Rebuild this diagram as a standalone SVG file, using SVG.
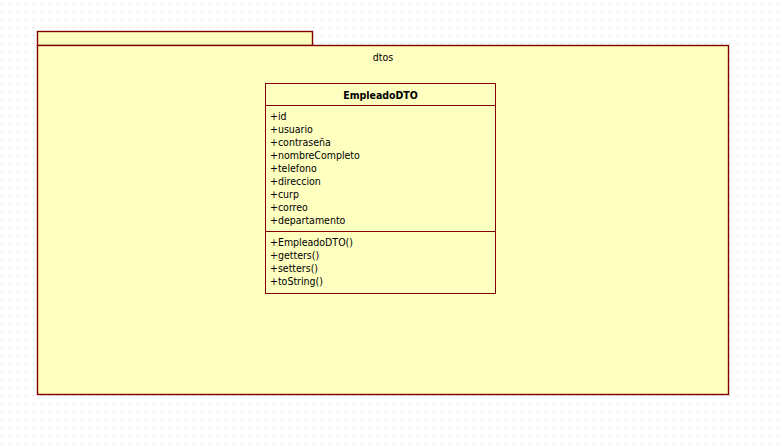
<svg xmlns="http://www.w3.org/2000/svg" width="784" height="445" viewBox="0 0 784 445">
<defs>
<pattern id="grid" patternUnits="userSpaceOnUse" x="0" y="0" width="8" height="8">
<rect x="1" y="3" width="1" height="1" fill="#c4c4c4"/>
</pattern>
</defs>
<style>
.pkg{fill:#FFFFC0;stroke:#800000;stroke-width:1.4}
.cls{fill:#FFFFC0;stroke:#800000;stroke-width:1}
.t{font-family:"DejaVu Sans Condensed","DejaVu Sans",sans-serif;font-size:10.5px;fill:#000}
.b{font-weight:bold;text-anchor:middle}
</style>
<rect x="0" y="0" width="784" height="445" fill="#ffffff"/>
<rect x="0" y="0" width="784" height="445" fill="url(#grid)"/>
<g id="dtos">
<rect class="pkg" x="37.5" y="31.5" width="275" height="14"/>
<rect class="pkg" x="37.5" y="45.5" width="691" height="349"/>
<text class="t" x="383" y="61" text-anchor="middle">dtos</text>
</g>
<g id="EmpleadoDTO">
<rect class="cls" x="265.5" y="83.5" width="230" height="210"/>
<line class="cls" x1="265.5" y1="105.5" x2="495.5" y2="105.5"/>
<line class="cls" x1="265.5" y1="231.5" x2="495.5" y2="231.5"/>
<text class="t b" x="380.5" y="99">EmpleadoDTO</text>
<text class="t" x="270" y="120">+id</text>
<text class="t" x="270" y="133">+usuario</text>
<text class="t" x="270" y="146">+contraseña</text>
<text class="t" x="270" y="159">+nombreCompleto</text>
<text class="t" x="270" y="172">+telefono</text>
<text class="t" x="270" y="185">+direccion</text>
<text class="t" x="270" y="198">+curp</text>
<text class="t" x="270" y="211">+correo</text>
<text class="t" x="270" y="224">+departamento</text>
<text class="t" x="270" y="246">+EmpleadoDTO()</text>
<text class="t" x="270" y="259">+getters()</text>
<text class="t" x="270" y="272">+setters()</text>
<text class="t" x="270" y="285">+toString()</text>
</g>
<g id="connectors"/>
</svg>
